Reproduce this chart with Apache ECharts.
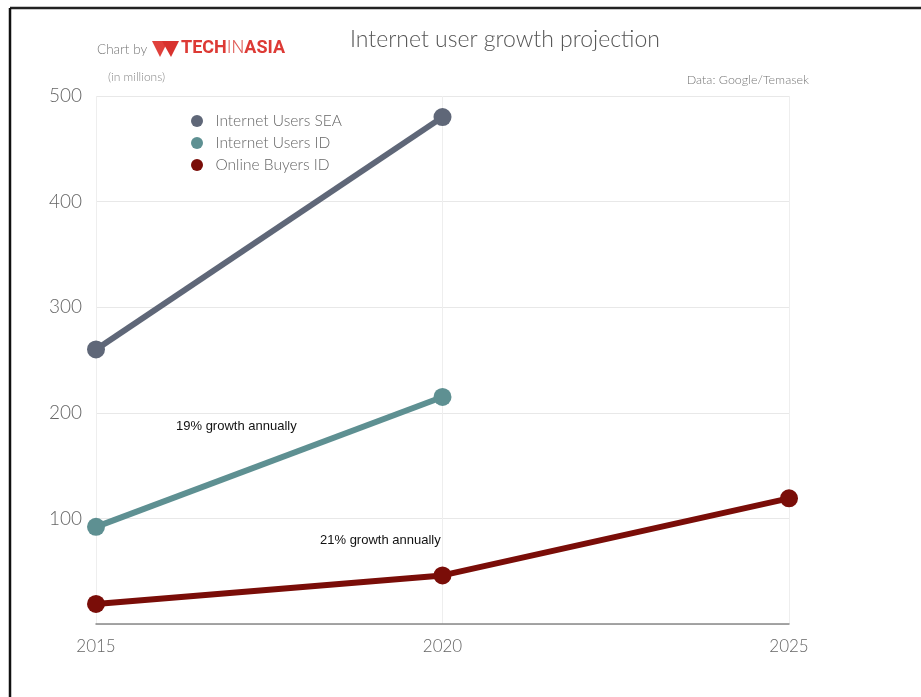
<!DOCTYPE html>
<html>
<head>
<meta charset="utf-8">
<script src="https://cdn.jsdelivr.net/npm/echarts@6/dist/echarts.min.js"></script>
<style>
html,body{margin:0;padding:0;background:#fff;}
#chart{width:921px;height:697px;}
</style>
</head>
<body>
<div id="chart"></div>
<script>
var years = ['2015', '2020', '2025'];
var internetUsersSEA = [260, 480, null];
var internetUsersID = [92, 215, null];
var onlineBuyersID = [19, 46, 119];
var seriesNames = ['Internet Users SEA', 'Internet Users ID', 'Online Buyers ID'];
var yTicks = [0, 100, 200, 300, 400, 500];

var colors = ['#5f6778', '#5e9092', '#7a0d08'];
var FONT = 'Lato, "Open Sans", sans-serif';

var chart = echarts.init(document.getElementById('chart'));

function lineSeries(name, data, color) {
  return {
    name: name,
    type: 'line',
    data: data,
    symbol: 'circle',
    symbolSize: 18,
    lineStyle: { width: 6, color: color },
    itemStyle: { color: color },
    connectNulls: false,
    z: 3
  };
}

chart.setOption({
  animation: false,
  backgroundColor: '#fff',
  color: colors,
  grid: { left: 96, right: 132, top: 96, bottom: 73 },
  title: {
    text: 'Internet user growth projection',
    left: 500, top: 23, textAlign: 'center',
    textStyle: { fontFamily: FONT, fontSize: 23, fontWeight: 300, color: '#555' }
  },
  legend: {
    orient: 'vertical',
    left: 186, top: 108,
    itemWidth: 15, itemHeight: 12,
    itemGap: 6,
    icon: 'circle',
    data: seriesNames,
    textStyle: { fontFamily: FONT, fontSize: 15.5, fontWeight: 300, color: '#666', padding: [0, 0, 0, 6] }
  },
  xAxis: {
    type: 'category',
    data: years,
    boundaryGap: false,
    axisLine: { lineStyle: { color: '#888', width: 1.5 } },
    axisTick: { show: false },
    splitLine: { show: true, lineStyle: { color: '#eeeeee', width: 1 } },
    axisLabel: { fontFamily: FONT, fontSize: 17, fontWeight: 300, color: '#666', margin: 14 }
  },
  yAxis: {
    type: 'value',
    min: yTicks[0], max: yTicks[yTicks.length - 1], interval: 100,
    axisLine: { show: false },
    axisTick: { show: false },
    splitLine: { lineStyle: { color: '#e8e8e8', width: 1 } },
    axisLabel: {
      fontFamily: FONT, fontSize: 19, fontWeight: 300, color: '#666', margin: 14,
      formatter: function (v) { return v === 0 ? '' : String(v); }
    }
  },
  series: [
    lineSeries(seriesNames[0], internetUsersSEA, colors[0]),
    lineSeries(seriesNames[1], internetUsersID, colors[1]),
    lineSeries(seriesNames[2], onlineBuyersID, colors[2])
  ],
  graphic: [
    { type: 'line', shape: { x1: 10, y1: 8, x2: 921, y2: 8 }, style: { stroke: '#222', lineWidth: 2.5 } },
    { type: 'line', shape: { x1: 10, y1: 8, x2: 10, y2: 697 }, style: { stroke: '#111', lineWidth: 2.5 } },
    { type: 'text', left: 97, top: 43, style: { text: 'Chart by', fontFamily: FONT, fontSize: 13.5, fontWeight: 300, fill: '#777' } },
    { type: 'polygon', shape: { points: [[152, 41], [168, 41], [160, 57]] }, style: { fill: '#e0413c' } },
    { type: 'polygon', shape: { points: [[162, 41], [179, 41], [171, 57]] }, style: { fill: '#d8322e' } },
    { type: 'text', left: 181, top: 39, style: {
      text: '{b|TECH}{l|IN}{b|ASIA}',
      rich: {
        b: { fontFamily: 'Roboto, sans-serif', fontSize: 18, fontWeight: 'bold', fill: '#dd3a35' },
        l: { fontFamily: 'Roboto, sans-serif', fontSize: 18, fontWeight: 300, fill: '#e0605c' }
      }
    } },
    { type: 'text', left: 108, top: 71, style: { text: '(in millions)', fontFamily: FONT, fontSize: 12, fontWeight: 300, fill: '#888' } },
    { type: 'text', right: 112, top: 73, style: { text: 'Data: Google/Temasek', fontFamily: FONT, fontSize: 12.5, fontWeight: 300, fill: '#777' } },
    { type: 'text', left: 176, top: 420, style: { text: '19% growth annually', fontFamily: 'Liberation Sans, Arial, sans-serif', fontSize: 13, fill: '#111' } },
    { type: 'text', left: 320, top: 534, style: { text: '21% growth annually', fontFamily: 'Liberation Sans, Arial, sans-serif', fontSize: 13, fill: '#111' } }
  ]
});
</script>
</body>
</html>
